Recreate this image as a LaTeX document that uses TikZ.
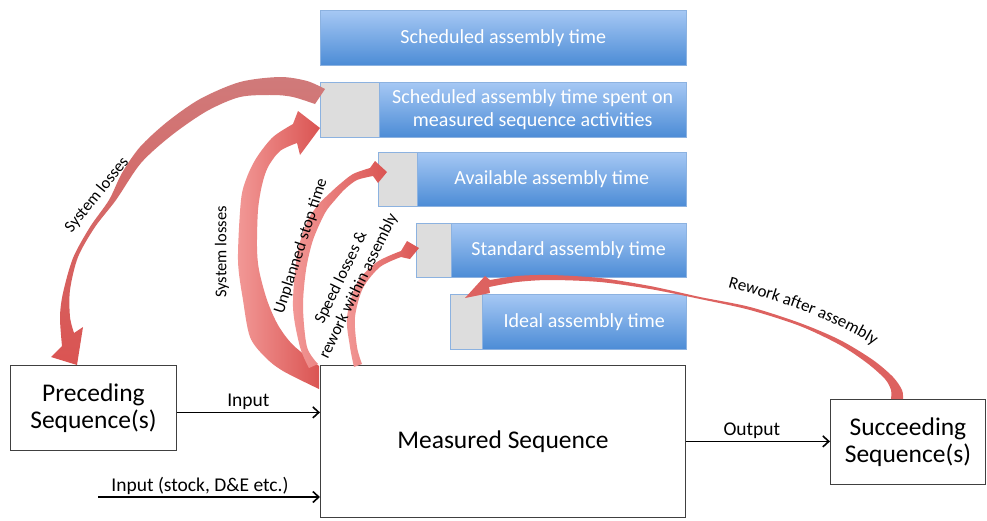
\documentclass[tikz,border=0pt]{standalone}
\usepackage{fontspec}
\setmainfont{Carlito}
\usetikzlibrary{arrows.meta,decorations.text}
\definecolor{bluetop}{RGB}{166,200,244}
\definecolor{bluebot}{RGB}{76,140,214}
\definecolor{blueline}{RGB}{140,178,224}
\definecolor{greyfill}{RGB}{221,221,221}
\definecolor{redL}{RGB}{242,152,150}
\definecolor{redD}{RGB}{218,84,82}
\definecolor{redM}{RGB}{208,122,122}
\begin{document}
\begin{tikzpicture}[x=1pt,y=-1pt,
  bluebox/.style={draw=blueline, top color=bluetop, bottom color=bluebot, text=white,
    font=\fontsize{20}{23}\selectfont, inner sep=0pt, anchor=north west, align=center},
  greybox/.style={draw=blueline, fill=greyfill, anchor=north west, inner sep=0pt},
  blackbox/.style={draw=black!75, fill=white, line width=0.8pt, anchor=north west,
    inner sep=0pt, align=center, font=\fontsize{25.5}{27}\selectfont},
  conn/.style={line width=1.6pt, -{Straight Barb[length=6pt,width=11pt,line width=1.6pt]}},
  lab/.style={font=\fontsize{19.5}{21}\selectfont, inner sep=2pt},
  redarrow/.style={left color=redL, right color=redD, draw=none},
  redtop/.style={top color=redM, bottom color=redD, draw=none},
  arlab/.style={font=\fontsize{16.5}{19.5}\selectfont, align=center, inner sep=0pt}]
\path[use as bounding box] (0,0) rectangle (987,520);
\fill[white] (0,0) rectangle (987,520);

% blue boxes
\node[bluebox, minimum width=366pt, minimum height=55pt] (sat) at (320,10) {Scheduled assembly time};
\node[greybox, minimum width=59pt, minimum height=55pt] (g2) at (320,82) {};
\node[bluebox, minimum width=307pt, minimum height=55pt] (b2) at (379,82) {Scheduled assembly time spent on\\measured sequence activities};
\node[greybox, minimum width=39pt, minimum height=54pt] (g3) at (378,152) {};
\node[bluebox, minimum width=269pt, minimum height=54pt] (b3) at (417,152) {Available assembly time};
\node[greybox, minimum width=35pt, minimum height=54pt] (g4) at (416,223) {};
\node[bluebox, minimum width=235pt, minimum height=54pt] (b4) at (451,223) {Standard assembly time};
\node[greybox, minimum width=32pt, minimum height=55pt] (g5) at (450,294) {};
\node[bluebox, minimum width=204pt, minimum height=55pt] (b5) at (482,294) {Ideal assembly time};

% black boxes
\node[blackbox, minimum width=166pt, minimum height=85pt] (pre) at (10,365) {Preceding\\Sequence(s)};
\node[blackbox, minimum width=365pt, minimum height=152pt] (meas) at (320,365) {Measured Sequence};
\node[blackbox, minimum width=155pt, minimum height=85pt] (succ) at (830,399) {Succeeding\\Sequence(s)};

% black connectors
\coordinate (inA) at ([yshift=-4.5pt]pre.east);
\draw[conn] (inA) -- (inA -| meas.west) node[lab, midway, above] (linA) {Input};
\coordinate (inB) at (98,497);
\draw[conn] (inB) -- (inB -| meas.west) node[lab, midway, above, xshift=-9pt] (linB) {Input (stock, D\&E etc.)};
\draw[conn] (meas.east) -- (meas.east -| succ.west) node[lab, midway, above, xshift=-6pt] (lout) {Output};

% red arrows
% 1: system losses (to preceding)
\path[redtop] (325,89) -- plot[smooth] coordinates {(325,89) (307,81) (280,77) (240,82) (200,99) (167,122) (140,147) (122,173) (109,200) (90,227) (73,258) (63,293) (60,317) (62,346)}
  -- (51,357) -- (77,365) -- (83,327)
  -- plot[smooth] coordinates {(74,333) (70,317) (70,290) (78,257) (95,227) (116,200) (141,163) (172,135) (207,111) (240,97) (273,95) (293,97) (315,104)} -- cycle;
% 2: system losses (measured to box 2)
\path[redarrow] (319,366) -- plot[smooth] coordinates {(319,366) (293,345) (278,325) (267,300) (259,270) (257,247) (258,210) (262,185) (268,167) (280,151) (297,143)}
  -- (300,155) -- (320,128) -- (298,111)
  -- plot[smooth] coordinates {(293,124) (273,137) (257,157) (247,177) (241,200) (238,260) (243,300) (250,337) (265,357) (283,371) (319,389)} -- cycle;
% 3: unplanned stop time
\path[redarrow] (309,368) -- plot[smooth] coordinates {(309,368) (300,347) (293,307) (297,255) (307,222) (318,205) (330,193) (340,184) (353,174) (370,168)}
  -- (375,161) -- (387,172) -- (378,183)
  -- plot[smooth] coordinates {(373,176) (357,180) (345,189) (335,200) (325,213) (313,240) (306,270) (303,307) (307,347) (318,364)} -- cycle;
% 4: speed losses
\path[redarrow] (354,367) -- plot[smooth] coordinates {(354,367) (350,347) (347,317) (357,283) (377,262) (401,251)}
  -- (407,241) -- (419,248) -- (410,259)
  -- plot[smooth] coordinates {(401,257) (380,267) (363,288) (355,317) (357,347) (362,364)} -- cycle;
% 5: rework after assembly
\path[fill=redD!92!white, draw=none] (903,399) -- plot[smooth] coordinates {(903,399) (902,390) (893,377) (873,360) (840,340) (800,323) (750,307) (700,297) (650,286) (600,278) (550,275) (517,276) (490,280)}
  -- (485,276) -- (465,298) -- (490,293)
  -- plot[smooth] coordinates {(489,287) (517,282) (550,280) (600,282) (650,289) (700,299) (750,310) (800,326) (840,345) (867,363) (885,379) (891,390) (891,399)} -- cycle;

% arrow labels
\node[arlab, rotate=51] (l1) at (97,195) {System losses};
\node[arlab, rotate=90] (l2) at (222,252) {System losses};
\node[arlab, rotate=72] (l3) at (301,246) {Unplanned stop time};
\node[arlab, rotate=64] (l4) at (350,282) {Speed losses \&\\rework within assembly};
\path[decorate, decoration={text along path, text align=center,
   text={|\fontsize{17}{17}\selectfont|Rework after assembly}}]
   (716,284) .. controls (770,298) and (835,318) .. (884,352);
\end{tikzpicture}
\end{document}
